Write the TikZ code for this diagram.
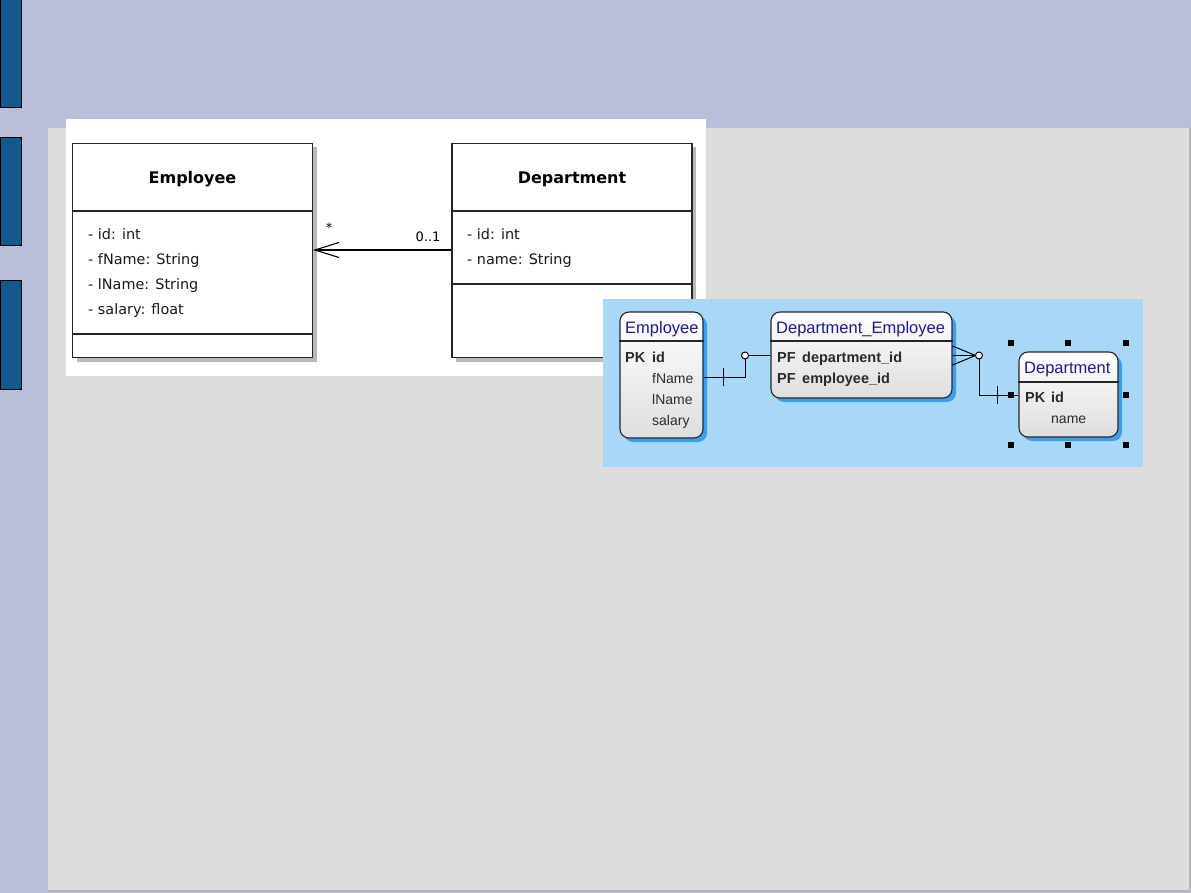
\documentclass[tikz,border=0pt]{standalone}
\usepackage{fontspec}
\setmainfont{DejaVu Sans}
\newfontfamily\umlfont{DejaVu Sans}
\newfontfamily\erfont{Liberation Sans}
\usetikzlibrary{arrows.meta,shadows,calc}
\definecolor{lav}{HTML}{B9BEDA}
\definecolor{panelgray}{HTML}{DDDDDD}
\definecolor{paneledge}{HTML}{B4B4B4}
\definecolor{barblue}{HTML}{14598C}
\definecolor{erbg}{HTML}{A8D8F8}
\definecolor{ershadow}{HTML}{3E9EEE}
\definecolor{ernavy}{HTML}{1C1C8C}
\definecolor{ertext}{HTML}{2A2A2A}
\begin{document}
\begin{tikzpicture}[x=1pt,y=-1pt,
  sidebar/.style={draw=black, line width=1pt, fill=barblue},
  umlbox/.style={draw=black!85, line width=1.2pt, fill=white, inner sep=0,
    minimum width=240, drop shadow={shadow xshift=4pt, shadow yshift=-4pt, fill=black!50, opacity=0.55}},
  umltitle/.style={font=\umlfont\bfseries\fontsize{16}{18}\selectfont, anchor=base, inner sep=0},
  umlattr/.style={font=\umlfont\fontsize{14.4}{16}\selectfont, anchor=base west, inner sep=0, text=black!90},
  umllbl/.style={font=\umlfont\fontsize{13}{15}\selectfont, anchor=base, inner sep=0},
  erbox/.style={draw=black!85, line width=1.1pt, rounded corners=9pt, inner sep=0,
    top color=white, bottom color=black!13,
    drop shadow={shadow xshift=4pt, shadow yshift=-4pt, fill=ershadow, opacity=1}},
  ertitle/.style={font=\erfont\fontsize{16.5}{18}\selectfont, text=ernavy, anchor=base west, inner sep=0},
  erkey/.style={font=\erfont\bfseries\fontsize{14.5}{16}\selectfont, text=ertext, anchor=base west, inner sep=0},
  erfield/.style={font=\erfont\fontsize{14}{16}\selectfont, text=ertext, anchor=base west, inner sep=0},
  conn/.style={draw=black, line width=1pt},
  handle/.style={fill=black, draw=none, minimum size=6, inner sep=0}
]
\useasboundingbox (0,0) rectangle (1191,893);
% background
\fill[lav] (0,0) rectangle (1191,893);
\fill[panelgray] (48,128) rectangle (1190,891);
\draw[paneledge, line width=1.5pt] (1190,128) -- (1190,891) -- (48,891);
% sidebar bars
\draw[sidebar] (0,-1) rectangle (21,108);
\draw[sidebar] (0,138) rectangle (21,246);
\draw[sidebar] (0,281) rectangle (21,389);

% ---------- UML panel ----------
\fill[white] (66,119) rectangle (706,376);
\node[umlbox, minimum height=214] (umlemp) at (192.5,250.5) {};
\node[umlbox, minimum height=214] (umldep) at (572,250.5) {};
\draw[black!85, line width=1.2pt] (umlemp.west |- 0,211) -- (umlemp.east |- 0,211);
\draw[black!85, line width=1.2pt] (umlemp.west |- 0,334) -- (umlemp.east |- 0,334);
\draw[black!85, line width=1.2pt] (umldep.west |- 0,211) -- (umldep.east |- 0,211);
\draw[black!85, line width=1.2pt] (umldep.west |- 0,284) -- (umldep.east |- 0,284);
\node[umltitle] (tEmp) at (192.5,184) {Employee};
\node[umltitle] (tDep) at (572,184) {Department};
\node[umlattr] (a1) at (88,240) {- id: int};
\node[umlattr] (a2) at (88,265) {- fName: String};
\node[umlattr] (a3) at (88,290) {- lName: String};
\node[umlattr] (a4) at (88,315) {- salary: float};
\node[umlattr] (b1) at (467,240) {- id: int};
\node[umlattr] (b2) at (467,265) {- name: String};
\draw[conn, line width=1.1pt, -{Straight Barb[length=24pt, width=15pt, line width=1.1pt]}] (umldep.west |- 0,250) -- (umlemp.east |- 0,250);
\node[umllbl] (mStar) at (329,233) {*};
\node[umllbl] (mOne) at (428,242) {0..1};

% ---------- ER panel ----------
\fill[erbg] (603,299) rectangle (1143,467);
\node[erbox, minimum width=83, minimum height=126] (eremp) at (661.5,375) {};
\node[erbox, minimum width=181, minimum height=86] (erde) at (861.5,355) {};
\node[erbox, minimum width=99, minimum height=85] (erdep) at (1068.5,394.5) {};
\draw[black!85, line width=1.1pt] (eremp.west |- 0,341) -- (eremp.east |- 0,341);
\draw[black!85, line width=1.1pt] (erde.west |- 0,341) -- (erde.east |- 0,341);
\draw[black!85, line width=1.1pt] (erdep.west |- 0,382) -- (erdep.east |- 0,382);

\node[ertitle] (etEmp) at (625,333) {Employee};
\node[erkey] (ePK) at (625,362) {PK};
\node[erkey] (eId) at (652,362) {id};
\node[erfield] (eF) at (652,383) {fName};
\node[erfield] (eL) at (652,404) {lName};
\node[erfield] (eS) at (652,425) {salary};

\node[ertitle] (etDE) at (776,333) {Department\_Employee};
\node[erkey] (dPF1) at (777,362) {PF};
\node[erkey] (dD) at (802,362) {department\_id};
\node[erkey] (dPF2) at (777,383) {PF};
\node[erkey] (dE) at (802,383) {employee\_id};

\node[ertitle] (etDep) at (1024,373) {Department};
\node[erkey] (pPK) at (1025,402) {PK};
\node[erkey] (pId) at (1051,402) {id};
\node[erfield] (pN) at (1051,423) {name};

% connector Employee -- Department_Employee
\coordinate (k1) at (745,377);
\coordinate (o1) at (745,355.5);
\draw[conn] (eremp.east |- k1) -- (k1) -- ($(o1)+(0,3.5)$);
\draw[conn] ($(o1)+(3.5,0)$) -- (erde.west |- o1);
\draw[conn, fill=white] (o1) circle (3.5);
\draw[conn] (723,368) -- (723,386);

% connector Department_Employee -- Department
\coordinate (o2) at (979,355.5);
\coordinate (k2) at (979,395);
\draw[conn] (erde.east |- 0,346) -- ($(o2)+(-3.5,0)$);
\draw[conn] (erde.east |- o2) -- ($(o2)+(-3.5,0)$);
\draw[conn] (erde.east |- 0,365) -- ($(o2)+(-3.5,0)$);
\draw[conn] ($(o2)+(0,3.5)$) -- (k2) -- (erdep.west |- k2);
\draw[conn, fill=white] (o2) circle (3.5);
\draw[conn] (997,386) -- (997,404);

% selection handles
\node[handle] (h1) at (1011,343) {};
\node[handle] (h2) at (1068,343) {};
\node[handle] (h3) at (1126,343) {};
\node[handle] (h4) at (1011,395) {};
\node[handle] (h5) at (1126,395) {};
\node[handle] (h6) at (1011,445) {};
\node[handle] (h7) at (1068,445) {};
\node[handle] (h8) at (1126,445) {};
\end{tikzpicture}
\end{document}
